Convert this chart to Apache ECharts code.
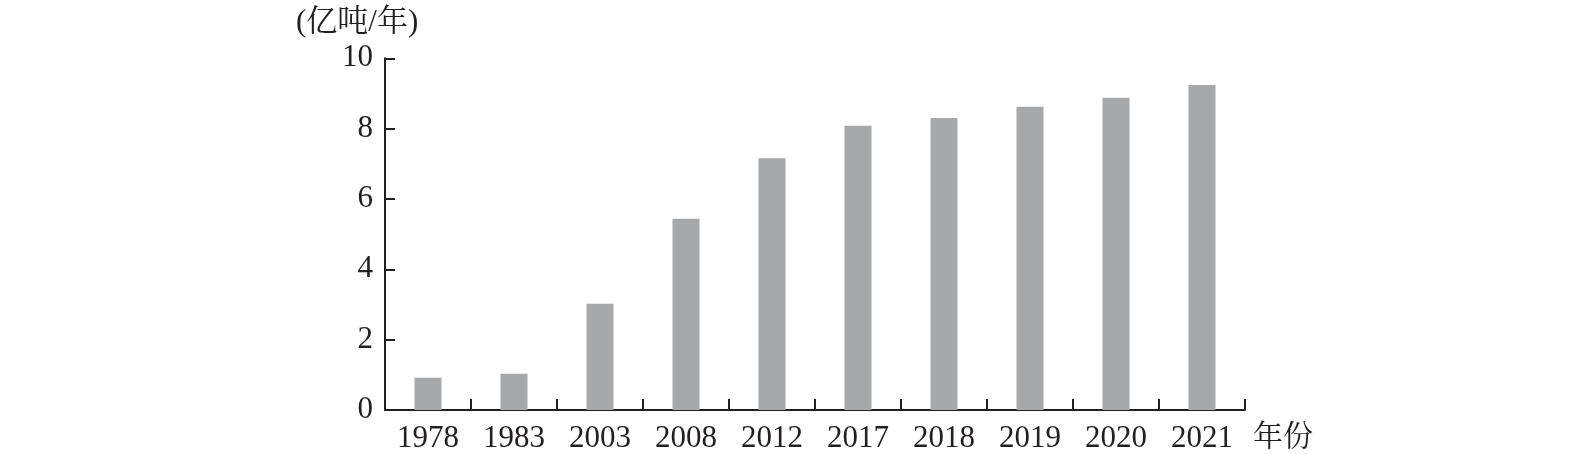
<!DOCTYPE html>
<html>
<head>
<meta charset="utf-8">
<script src="https://cdn.jsdelivr.net/npm/echarts@6/dist/echarts.min.js"></script>
<style>
html,body{margin:0;padding:0;background:#fff;}
#chart{width:1595px;height:454px;}
</style>
</head>
<body>
<div id="chart"></div>
<script>
const categories = ['1978','1983','2003','2008','2012','2017','2018','2019','2020','2021'];
const values = [0.92, 1.03, 3.02, 5.44, 7.16, 8.08, 8.30, 8.62, 8.88, 9.24];
const yTicks = [0, 2, 4, 6, 8, 10];
const yUnit = '(亿吨/年)';
const xName = '年份';

const FONT = "'Liberation Serif', 'Noto Serif CJK SC', 'Noto Sans CJK SC', serif";
const INK = '#231f20';

const chart = echarts.init(document.getElementById('chart'), null, {renderer: 'canvas'});
chart.setOption({
  animation: false,
  backgroundColor: '#fff',
  grid: {left: 385, right: 350, top: 58.3, bottom: 42.3, containLabel: false},
  title: {
    text: yUnit, left: 291, top: 2,
    textStyle: {fontFamily: FONT, fontSize: 31, fontWeight: 'normal', color: INK}
  },
  xAxis: {
    type: 'category',
    data: categories,
    name: xName,
    nameLocation: 'end',
    nameGap: 8,
    nameTextStyle: {fontFamily: FONT, fontSize: 30, color: INK, verticalAlign: 'top', align: 'left', padding: [13, 0, 0, 0]},
    axisLine: {lineStyle: {color: INK, width: 2}},
    axisTick: {show: true, inside: true, length: 11, lineStyle: {color: INK, width: 2}},
    axisLabel: {fontFamily: FONT, fontSize: 31, color: INK, margin: 13}
  },
  yAxis: {
    type: 'value',
    min: yTicks[0],
    max: yTicks[yTicks.length - 1],
    interval: 2,
    axisLine: {show: true, lineStyle: {color: INK, width: 2}},
    axisTick: {show: true, inside: true, length: 10, lineStyle: {color: INK, width: 2}},
    splitLine: {show: false},
    axisLabel: {fontFamily: FONT, fontSize: 31, color: INK, margin: 12}
  },
  series: [{
    type: 'bar',
    data: values,
    barWidth: 27,
    itemStyle: {color: '#a7a8aa'}
  }]
});
</script>
</body>
</html>
